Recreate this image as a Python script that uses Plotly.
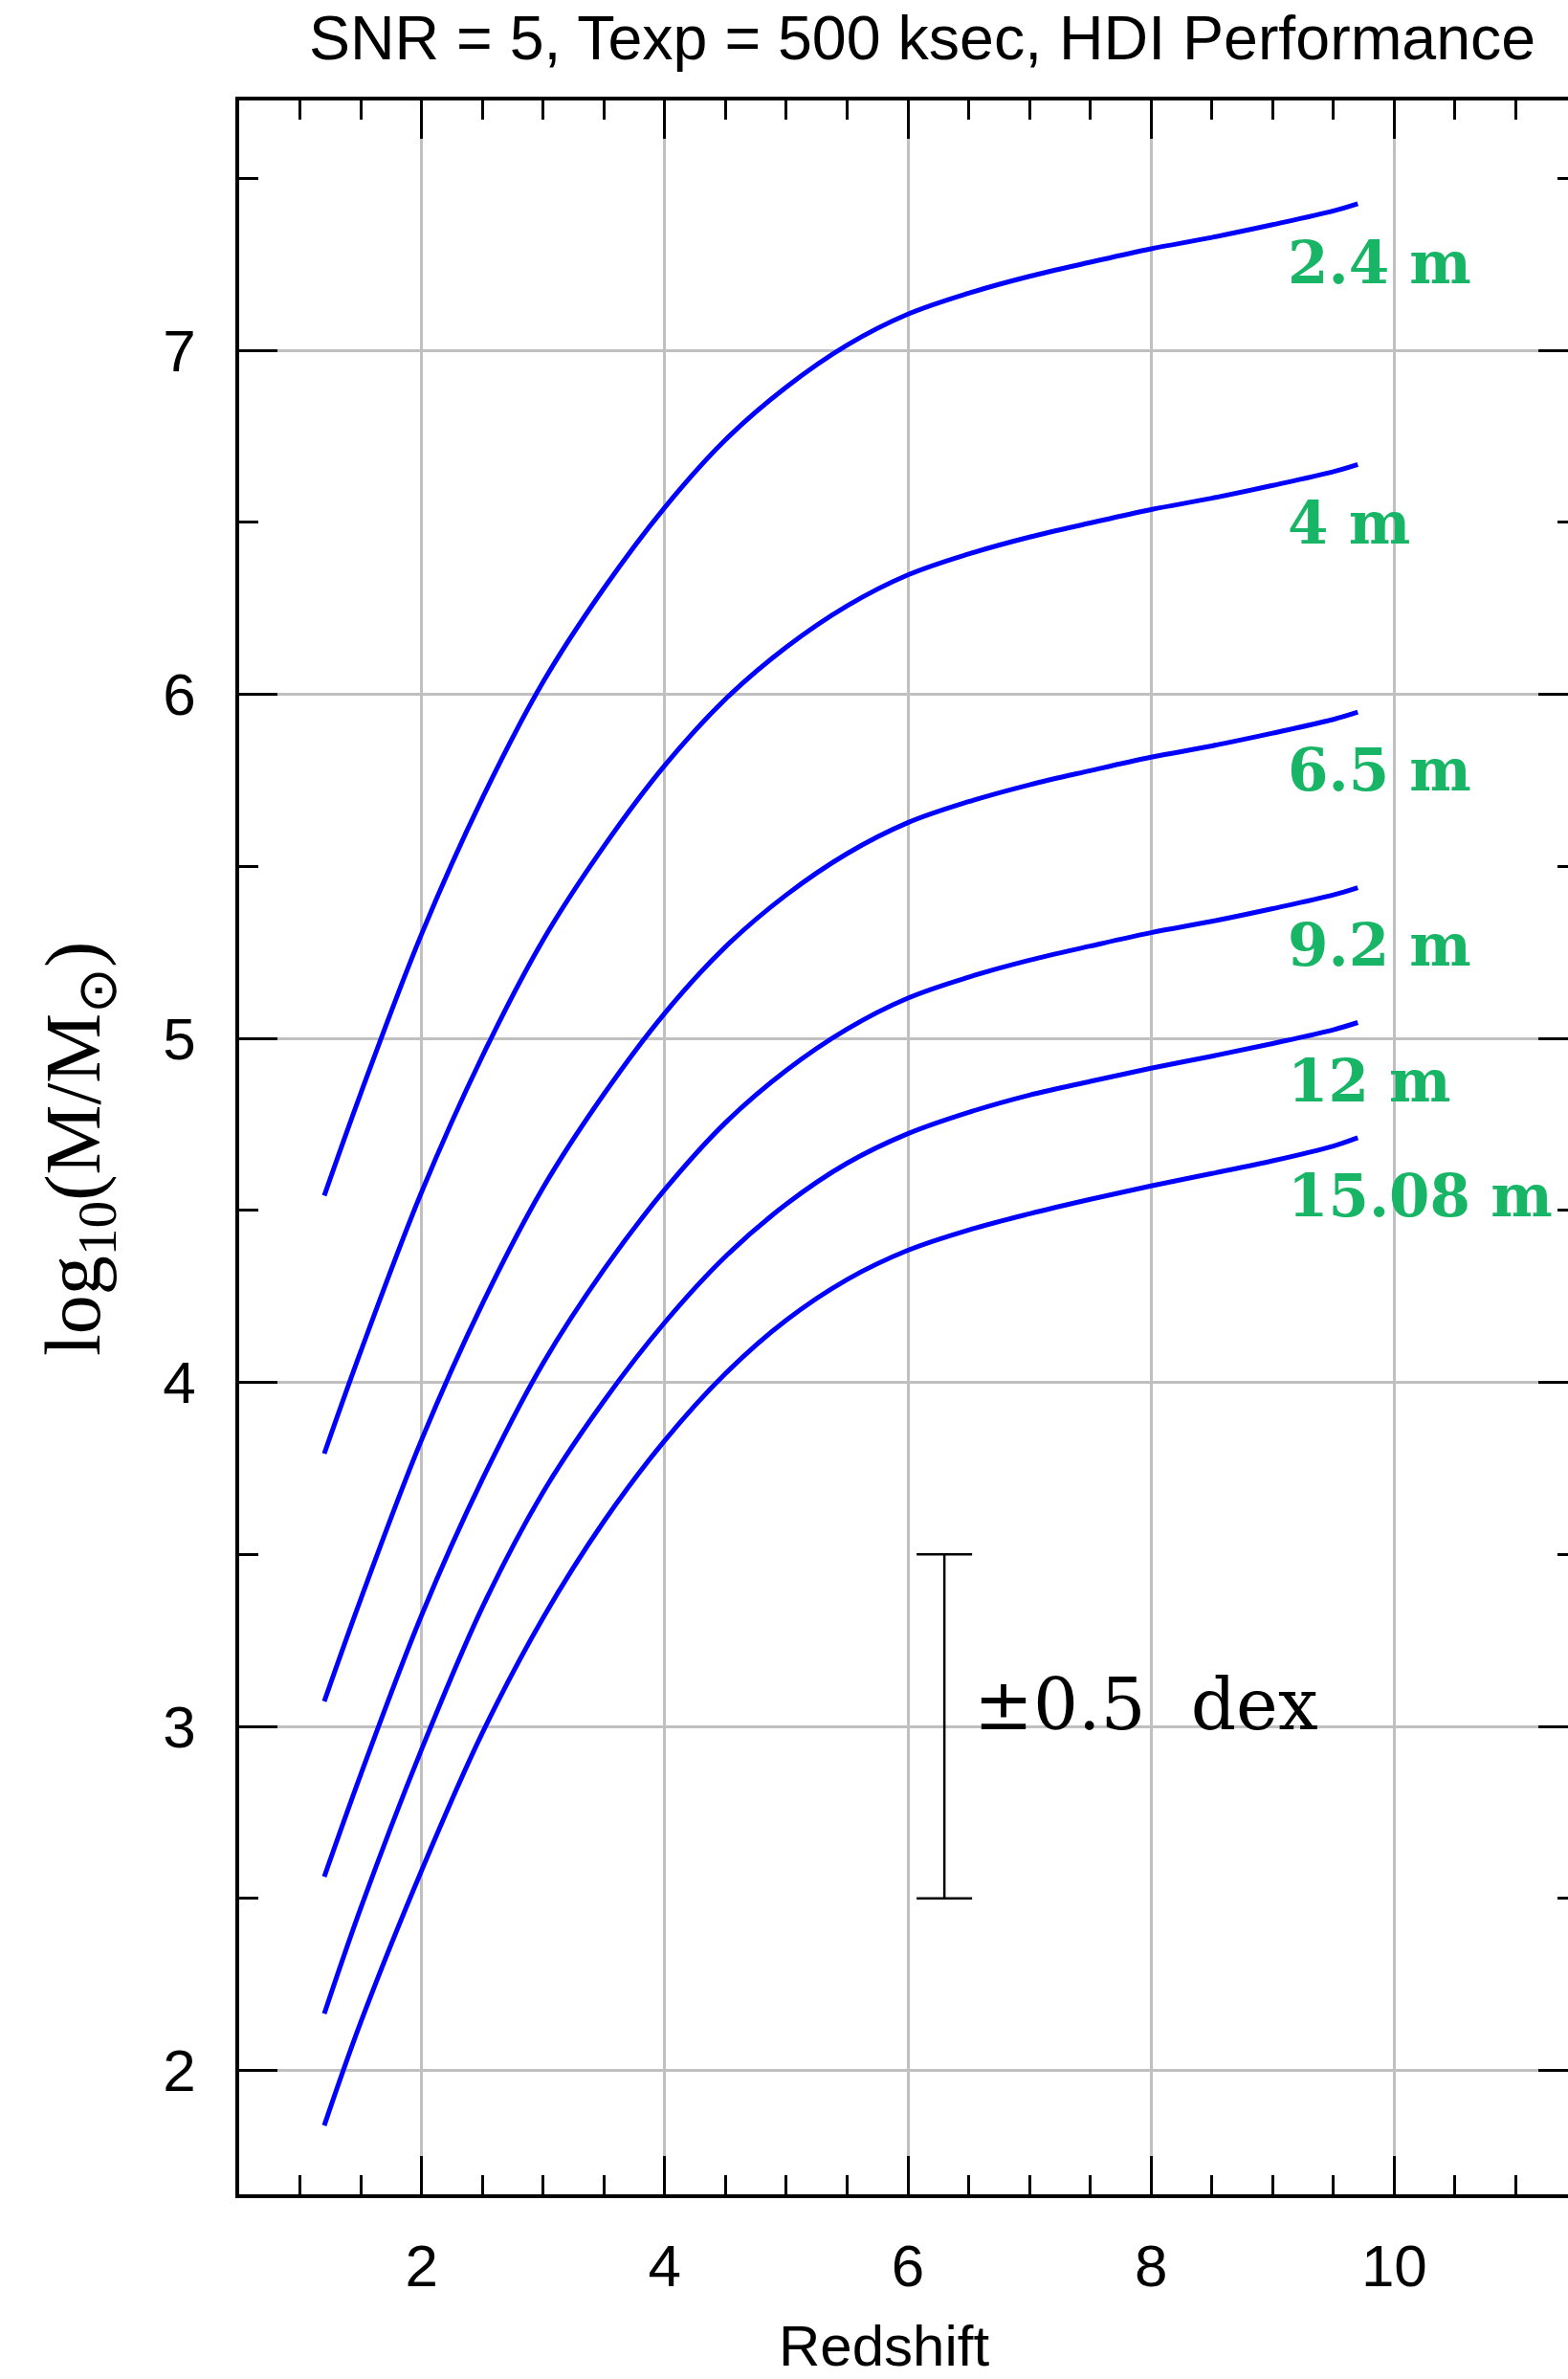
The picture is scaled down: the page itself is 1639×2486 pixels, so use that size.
import plotly.graph_objects as go

# Redshift sampling of the detection-limit curves
redshift = [1.2, 1.5, 2.0, 2.5, 3.0, 3.5, 4.0, 4.5, 5.0, 5.5, 6.0,
            6.5, 7.0, 7.5, 8.0, 8.5, 9.0, 9.5, 9.7]

# log10(M/Msun) limits for each telescope aperture
mass_2p4m = [4.543, 4.84, 5.303, 5.698, 6.036, 6.308, 6.543, 6.74, 6.893, 7.015, 7.105,
             7.166, 7.215, 7.256, 7.295, 7.328, 7.365, 7.405, 7.426]
mass_4m = [3.793, 4.09, 4.553, 4.948, 5.286, 5.558, 5.793, 5.986, 6.137, 6.257, 6.347,
           6.408, 6.457, 6.498, 6.537, 6.57, 6.607, 6.647, 6.668]
mass_6p5m = [3.073, 3.37, 3.833, 4.228, 4.566, 4.838, 5.073, 5.266, 5.417, 5.537, 5.627,
             5.688, 5.737, 5.778, 5.817, 5.85, 5.887, 5.927, 5.948]
mass_9p2m = [2.563, 2.86, 3.323, 3.718, 4.056, 4.328, 4.56, 4.755, 4.907, 5.027, 5.117,
             5.178, 5.227, 5.268, 5.307, 5.34, 5.377, 5.417, 5.438]
mass_12m = [2.165, 2.472, 2.933, 3.346, 3.681, 3.946, 4.174, 4.366, 4.518, 4.637, 4.723,
            4.785, 4.835, 4.875, 4.913, 4.948, 4.985, 5.025, 5.046]
mass_15p08m = [1.84, 2.14, 2.581, 2.981, 3.316, 3.596, 3.831, 4.026, 4.181, 4.299, 4.384,
               4.443, 4.49, 4.532, 4.571, 4.607, 4.644, 4.687, 4.711]

apertures = ["2.4 m", "4 m", "6.5 m", "9.2 m", "12 m", "15.08 m"]
curves = [mass_2p4m, mass_4m, mass_6p5m, mass_9p2m, mass_12m, mass_15p08m]

# Representative uncertainty bar
errbar_z = [6.3]
errbar_mass = [3.0]
errbar_dex = [0.5]

# Tick values
x_ticks = [2, 4, 6, 8, 10]
y_ticks = [2, 3, 4, 5, 6, 7]

# Plot frame geometry (pixels)
FIG_W, FIG_H = 1700, 2486
PLOT_L, PLOT_R, PLOT_T, PLOT_B = 250, 1648, 105, 2293

BLUE = "#0000ff"
GREEN = "#18b566"
SANS = "Liberation Sans, Arial, sans-serif"
SERIF = "Liberation Serif, Times New Roman, serif"

fig = go.Figure()

for name, mass in zip(apertures, curves):
    fig.add_trace(go.Scatter(
        x=redshift, y=mass, mode="lines", name=name,
        line=dict(color=BLUE, width=5, shape="spline", smoothing=1.0),
        showlegend=False, hoverinfo="skip",
    ))

fig.add_trace(go.Scatter(
    x=errbar_z, y=errbar_mass, mode="markers",
    marker=dict(size=1, color="rgba(0,0,0,0)"),
    error_y=dict(type="data", array=errbar_dex, color="black",
                 thickness=2.5, width=29),
    showlegend=False, hoverinfo="skip",
))

# Aperture labels at the right-hand end of each curve
label_z = 9.11
label_mass = [7.254, 6.499, 5.780, 5.272, 4.876, 4.543]
for name, ym in zip(apertures, label_mass):
    fig.add_annotation(
        x=label_z, y=ym, xref="x", yref="y", text=name, showarrow=False,
        xanchor="left", yanchor="middle",
        font=dict(family="DejaVu Serif, serif", size=61, color=GREEN, weight="bold"),
    )

fig.add_annotation(
    x=6.53, y=3.063, xref="x", yref="y", text="±0.5  dex", showarrow=False,
    xanchor="left", yanchor="middle",
    font=dict(family="DejaVu Serif, serif", size=74, color="black"),
)

plot_w = PLOT_R - PLOT_L
plot_h = PLOT_B - PLOT_T

# Title and axis titles as annotations in paper coordinates
fig.add_annotation(
    x=(964 - PLOT_L) / plot_w, y=(PLOT_B - 40) / plot_h,
    xref="paper", yref="paper", text="SNR = 5, Texp = 500 ksec, HDI Performance",
    showarrow=False, xanchor="center", yanchor="middle",
    font=dict(family=SANS, size=64.5, color="black"),
)
fig.add_annotation(
    x=(923.5 - PLOT_L) / plot_w, y=(PLOT_B - 2451) / plot_h,
    xref="paper", yref="paper", text="Redshift",
    showarrow=False, xanchor="center", yanchor="middle",
    font=dict(family=SANS, size=60, color="black"),
)
fig.add_annotation(
    x=(82 - PLOT_L) / plot_w, y=(PLOT_B - 1201) / plot_h,
    xref="paper", yref="paper",
    text="log<sub>10</sub>(M/M<sub>⊙</sub>)",
    showarrow=False, xanchor="center", yanchor="middle", textangle=-90,
    font=dict(family=SERIF, size=82, color="black"),
)

axis_common = dict(
    showline=True, linecolor="black", linewidth=3.5, mirror="ticks",
    ticks="inside", ticklen=40, tickwidth=2.5, tickcolor="black",
    showgrid=True, gridcolor="#c0c0c0", gridwidth=2.5,
    zeroline=False,
    tickfont=dict(family=SANS, size=62, color="black"),
    minor=dict(ticks="inside", ticklen=20, tickwidth=2.5, tickcolor="black",
               dtick=0.5, showgrid=False),
)

fig.update_xaxes(range=[0.5, 11.5], tickmode="array", tickvals=x_ticks,
                 ticklabelstandoff=18, **axis_common)
fig.update_yaxes(range=[1.64, 7.726], tickmode="array", tickvals=y_ticks,
                 ticklabelstandoff=29, **axis_common)

fig.update_layout(
    width=FIG_W, height=FIG_H,
    margin=dict(l=PLOT_L, r=FIG_W - PLOT_R, t=PLOT_T, b=FIG_H - PLOT_B),
    paper_bgcolor="white", plot_bgcolor="white",
)

# The page shows a 1639 px wide view of the figure; the right frame edge
# lies just past that view.
clip_js = (
    "var gd=document.getElementById('{plot_id}');"
    "document.body.style.margin='0';"
    "gd.parentElement.style.width='1639px';"
    "gd.parentElement.style.overflow='hidden';"
)
fig.write_html("out.html", post_script=clip_js)
